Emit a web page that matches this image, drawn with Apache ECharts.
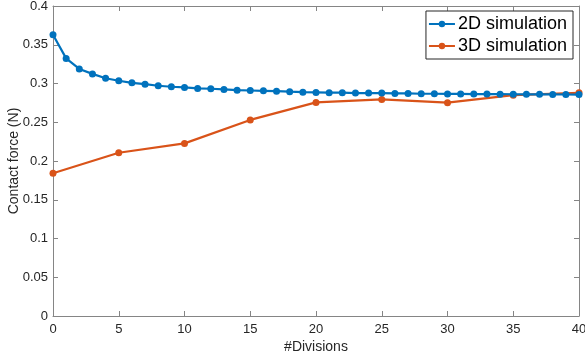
<!DOCTYPE html>
<html>
<head>
<meta charset="utf-8">
<script src="https://cdn.jsdelivr.net/npm/echarts@6/dist/echarts.min.js"></script>
<style>
  html, body { margin: 0; padding: 0; background: #fff; }
  #chart { width: 585px; height: 360px; }
</style>
</head>
<body>
<div id="chart"></div>
<script>
// Number of divisions for the 2D model (every integer 0..40)
const divisions2D = [0,1,2,3,4,5,6,7,8,9,10,11,12,13,14,15,16,17,18,19,20,
  21,22,23,24,25,26,27,28,29,30,31,32,33,34,35,36,37,38,39,40];
const force2D = [0.3628,0.3324,0.3188,0.3124,0.3068,0.3035,0.3009,0.2991,0.2971,0.2958,
  0.2949,0.2936,0.2932,0.2923,0.2914,0.2910,0.2906,0.2901,0.2894,0.2888,
  0.2885,0.2881,0.2881,0.2876,0.2876,0.2876,0.2872,0.2872,0.2868,0.2868,
  0.2866,0.2865,0.2864,0.2863,0.2862,0.2861,0.2860,0.2860,0.2859,0.2858,0.2857];

// Number of divisions for the 3D model
const divisions3D = [0,5,10,15,20,25,30,35,40];
const force3D = [0.1842,0.2106,0.2227,0.2530,0.2756,0.2795,0.2753,0.2850,0.2880];

const xTicks = [0,5,10,15,20,25,30,35,40];
const yTicks = [0,0.05,0.1,0.15,0.2,0.25,0.3,0.35,0.4];

const axisGray = '#858585';
const labelColor = '#262626';
const fontFamily = '"Liberation Sans", Arial, Helvetica, sans-serif';

const pairs = (xs, ys) => xs.map((x, i) => [x, ys[i]]);

const chart = echarts.init(document.getElementById('chart'), null, { renderer: 'canvas' });

const baseAxisLine = { show: true, onZero: false, lineStyle: { color: axisGray, width: 1 } };
const tickIn = { show: true, inside: true, length: 5, lineStyle: { color: axisGray, width: 1 } };

chart.setOption({
  animation: false,
  backgroundColor: '#ffffff',
  grid: { left: 53, right: 6, top: 6, bottom: 44, containLabel: false, outerBoundsMode: 'none' },
  legend: {
    right: 12, top: 11,
    orient: 'vertical',
    backgroundColor: '#ffffff',
    borderColor: '#262626',
    borderWidth: 1,
    padding: [4, 6, 4, 2],
    itemGap: 4,
    itemWidth: 26,
    itemHeight: 8,
    textStyle: { fontFamily, fontSize: 18, color: '#000', padding: [0, 0, 0, -2] },
    data: ['2D simulation', '3D simulation']
  },
  xAxis: [
    {
      type: 'value', min: 0, max: 40, interval: 5,
      name: '#Divisions', nameLocation: 'middle', nameGap: 24, nameMoveOverlap: false,
      nameTextStyle: { fontFamily, fontSize: 14, color: labelColor },
      axisLine: baseAxisLine, axisTick: tickIn,
      axisLabel: { fontFamily, fontSize: 13, color: labelColor, margin: 7 },
      splitLine: { show: false }
    },
    {
      type: 'value', min: 0, max: 40, interval: 5, position: 'top',
      axisLine: baseAxisLine, axisTick: tickIn,
      axisLabel: { show: false }, splitLine: { show: false }
    }
  ],
  yAxis: [
    {
      type: 'value', min: 0, max: 0.4, interval: 0.05,
      name: 'Contact force (N)', nameLocation: 'middle', nameGap: 32, nameMoveOverlap: false,
      nameTextStyle: { fontFamily, fontSize: 14, color: labelColor },
      axisLine: baseAxisLine, axisTick: tickIn,
      axisLabel: { fontFamily, fontSize: 13, color: labelColor, margin: 5,
        formatter: v => String(parseFloat(v.toFixed(2))) },
      splitLine: { show: false }
    },
    {
      type: 'value', min: 0, max: 0.4, interval: 0.05, position: 'right',
      axisLine: baseAxisLine, axisTick: tickIn,
      axisLabel: { show: false }, splitLine: { show: false }
    }
  ],
  series: [
    {
      name: '2D simulation', type: 'line',
      data: pairs(divisions2D, force2D),
      symbol: 'circle', symbolSize: 7, showAllSymbol: true,
      itemStyle: { color: '#0072BD' },
      lineStyle: { color: '#0072BD', width: 2.2 },
      z: 3
    },
    {
      name: '3D simulation', type: 'line',
      data: pairs(divisions3D, force3D),
      symbol: 'circle', symbolSize: 7, showAllSymbol: true,
      itemStyle: { color: '#D95319' },
      lineStyle: { color: '#D95319', width: 2.2 },
      z: 2
    }
  ]
});
</script>
</body>
</html>
